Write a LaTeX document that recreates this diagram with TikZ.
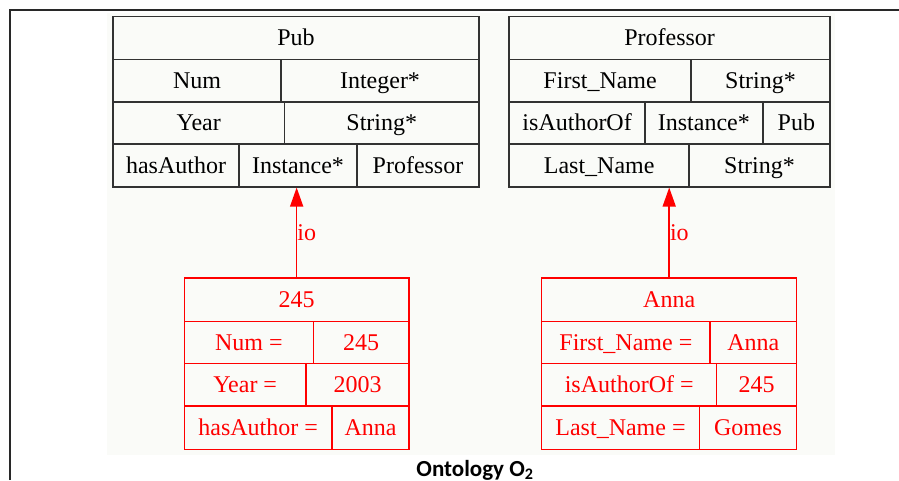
\documentclass[tikz,border=0pt]{standalone}
\usepackage{fontspec}
\setmainfont{Liberation Serif}
\newfontfamily\capfont{Carlito}
\usetikzlibrary{arrows.meta}
\definecolor{framegray}{RGB}{40,40,40}
\definecolor{linegray}{RGB}{50,50,50}
\definecolor{paper}{RGB}{250,251,248}
\definecolor{inst}{RGB}{255,0,0}

% one table cell: name, x1, y1, x2, y2, style, text
\newcommand\tcell[7]{%
  \node[#6, minimum width={(#4)-(#2)}, minimum height={(#5)-(#3)}]
    (#1) at ({((#2)+(#4))/2},{((#3)+(#5))/2}) {#7};}

\begin{document}
\begin{tikzpicture}[x=1pt,y=-1pt,
  cellfont/.style={font=\fontsize{24}{26}\selectfont},
  classcell/.style={draw=linegray, line width=1.7pt, inner sep=0pt, text=black,
    cellfont, text height=15.5pt, text depth=0pt},
  instcell/.style={draw=inst, line width=1.5pt, inner sep=0pt, text=inst,
    cellfont, text height=15.5pt, text depth=0pt},
  ioarrow/.style={draw=inst, line width=1.6pt, -{Triangle[length=19pt,width=13pt]}},
  iolabel/.style={text=inst, cellfont, inner sep=0pt, anchor=west}]

  \useasboundingbox (0,0) rectangle (899,480);
  \fill[white] (0,0) rectangle (899,480);
  \fill[paper] (107,13) rectangle (835,455);

  % frame
  \draw[framegray, line width=2pt] (9.5,480) -- (9.5,10) -- (899,10);

  % class Pub
  \tcell{pubH}{113}{16.5}{479}{59.5}{classcell}{Pub}
  \tcell{pubNum}{113}{59.5}{281}{101.7}{classcell}{Num}
  \tcell{pubNumT}{281}{59.5}{479}{101.7}{classcell}{Integer*}
  \tcell{pubYear}{113}{101.7}{284.5}{144.3}{classcell}{Year}
  \tcell{pubYearT}{284.5}{101.7}{479}{144.3}{classcell}{String*}
  \tcell{pubAuth}{113}{144.3}{239}{186.7}{classcell}{hasAuthor}
  \tcell{pubAuthT}{239}{144.3}{357}{186.7}{classcell}{Instance*}
  \tcell{pubAuthR}{357}{144.3}{479}{186.7}{classcell}{Professor}

  % class Professor
  \tcell{profH}{509.3}{16.5}{830}{59.5}{classcell}{Professor}
  \tcell{profFN}{509.3}{59.5}{691}{101.7}{classcell}{First\_Name}
  \tcell{profFNT}{691}{59.5}{830}{101.7}{classcell}{String*}
  \tcell{profAO}{509.3}{101.7}{645}{144.3}{classcell}{isAuthorOf}
  \tcell{profAOT}{645}{101.7}{762.7}{144.3}{classcell}{Instance*}
  \tcell{profAOR}{762.7}{101.7}{830}{144.3}{classcell}{Pub}
  \tcell{profLN}{509.3}{144.3}{689}{186.7}{classcell}{Last\_Name}
  \tcell{profLNT}{689}{144.3}{830}{186.7}{classcell}{String*}

  % instance 245
  \tcell{iaH}{184.3}{278}{409}{321.7}{instcell}{245}
  \tcell{iaNum}{184.3}{321.7}{313.3}{363.3}{instcell}{Num =}
  \tcell{iaNumV}{313.3}{321.7}{409}{363.3}{instcell}{245}
  \tcell{iaYear}{184.3}{363.3}{306}{406}{instcell}{Year =}
  \tcell{iaYearV}{306}{363.3}{409}{406}{instcell}{2003}
  \tcell{iaAuth}{184.3}{406}{332}{449.3}{instcell}{hasAuthor =}
  \tcell{iaAuthV}{332}{406}{409}{449.3}{instcell}{Anna}

  % instance Anna
  \tcell{ibH}{541.7}{278}{796.7}{321.7}{instcell}{Anna}
  \tcell{ibFN}{541.7}{321.7}{710}{363.3}{instcell}{First\_Name =}
  \tcell{ibFNV}{710}{321.7}{796.7}{363.3}{instcell}{Anna}
  \tcell{ibAO}{541.7}{363.3}{716.7}{406}{instcell}{isAuthorOf =}
  \tcell{ibAOV}{716.7}{363.3}{796.7}{406}{instcell}{245}
  \tcell{ibLN}{541.7}{406}{699.3}{449.3}{instcell}{Last\_Name =}
  \tcell{ibLNV}{699.3}{406}{796.7}{449.3}{instcell}{Gomes}

  % instance-of links
  \draw[ioarrow] (iaH.north) -- (iaH.north |- pubAuthT.south)
    node[iolabel, pos=0.5, xshift=0pt] {io};
  \draw[ioarrow] (ibH.north) -- (ibH.north |- profLN.south)
    node[iolabel, pos=0.5, xshift=0pt] {io};

  % caption
  \node[font=\capfont\bfseries\fontsize{23}{24}\selectfont, anchor=base, inner sep=0pt]
    (caption) at (475,476) {Ontology O\textsubscript{2}};
\end{tikzpicture}
\end{document}
